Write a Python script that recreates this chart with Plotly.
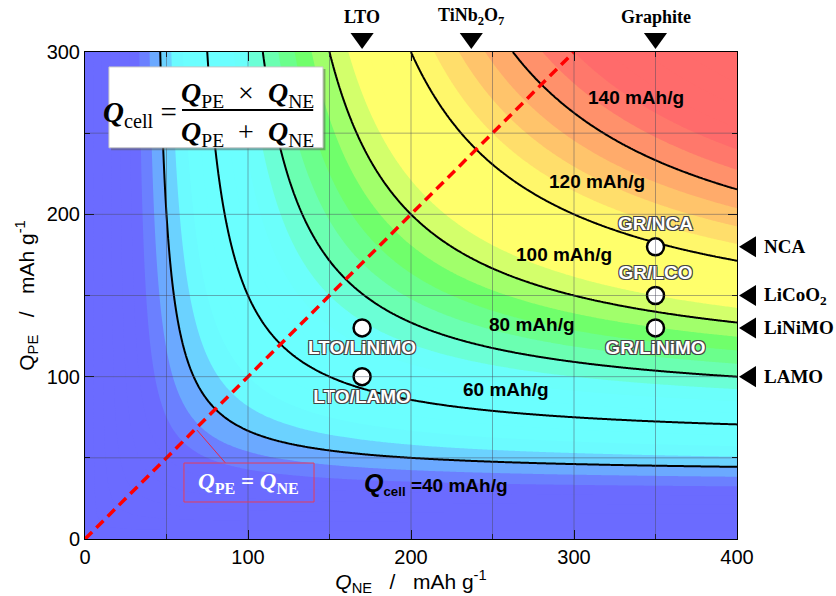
import numpy as np
import plotly.graph_objects as go

# Specific capacities (mAh/g) of the electrode materials
ne_materials = ["LTO", "TiNb<sub>2</sub>O<sub>7</sub>", "Graphite"]
ne_capacity = [170, 237, 350]
pe_materials = ["NCA", "LiCoO<sub>2</sub>", "LiNiMO", "LAMO"]
pe_capacity = [180, 150, 130, 100]

# Cell combinations (negative / positive)
cell_names = ["LTO/LiNiMO", "LTO/LAMO", "GR/NCA", "GR/LCO", "GR/LiNiMO"]
cell_ne = [170, 170, 350, 350, 350]
cell_pe = [130, 100, 180, 150, 130]
cell_text_pos = ["bottom center", "bottom center", "top center", "top center", "bottom center"]

# Iso-capacity lines and their labels
line_levels = [40, 60, 80, 100, 120, 140]
label_levels = [60, 80, 100, 120, 140]
label_x = [258, 274, 294, 314, 338]
label_y = [92, 132, 175, 220, 272]

# Cell capacity map  Q_cell = Q_PE*Q_NE/(Q_PE+Q_NE)
q_ne = np.linspace(0, 400, 401)
q_pe = np.linspace(0, 300, 301)
NE, PE = np.meshgrid(q_ne, q_pe)
with np.errstate(invalid="ignore", divide="ignore"):
    q_cell = np.where(NE + PE > 0, NE * PE / (NE + PE), 0.0)

ZMIN, ZMAX = 30, 150


def stop(q):
    return (q - ZMIN) / (ZMAX - ZMIN)


scale = [
    [0.0, "rgb(107,107,255)"],
    [stop(48), "rgb(107,255,255)"],
    [stop(72), "rgb(107,255,255)"],
    [stop(92), "rgb(107,255,107)"],
    [stop(107), "rgb(255,255,107)"],
    [stop(121), "rgb(255,255,107)"],
    [1.0, "rgb(255,107,107)"],
]

fig = go.Figure()

fig.add_trace(go.Contour(
    x=q_ne, y=q_pe, z=q_cell,
    colorscale=scale, zmin=ZMIN, zmax=ZMAX, zauto=False,
    contours=dict(coloring="fill", start=0, end=200, size=5, showlines=False),
    line=dict(width=0), showscale=False, hoverinfo="skip",
))

fig.add_trace(go.Contour(
    x=q_ne, y=q_pe, z=q_cell,
    contours=dict(coloring="lines", start=line_levels[0], end=line_levels[-1],
                  size=line_levels[1] - line_levels[0]),
    line=dict(color="black", width=2), colorscale=[[0, "black"], [1, "black"]],
    showscale=False, hoverinfo="skip",
))

# Q_PE = Q_NE diagonal
fig.add_trace(go.Scatter(
    x=[0, 300], y=[0, 300], mode="lines",
    line=dict(color="rgb(255,0,0)", width=3.5, dash="10px,6px"),
    hoverinfo="skip", showlegend=False,
))

# Cell points
fig.add_trace(go.Scatter(
    x=cell_ne, y=cell_pe, mode="markers+text",
    marker=dict(size=17, color="white", line=dict(color="black", width=2.5)),
    text=cell_names, textposition=cell_text_pos,
    textfont=dict(family="Liberation Sans", size=19, color="white",
                  weight="bold",
                  shadow="1px 1px 0 #444, -1px -1px 0 #444, 1px -1px 0 #444, -1px 1px 0 #444"),
    hoverinfo="skip", showlegend=False,
))

serif = "Liberation Serif"
annotations = []
shapes = []

# Material markers along the top (negative electrodes) and right edge (positive electrodes)
for name, q in zip(ne_materials, ne_capacity):
    annotations.append(dict(x=q, y=1.0719, xref="x", yref="paper", text=f"<b>{name}</b>",
                            showarrow=False, yanchor="middle",
                            font=dict(family=serif, size=18, color="black")))
    shapes.append(dict(type="path", xref="x", yref="paper",
                       path=f"M {q - 7.1},1.039 L {q + 7.1},1.039 L {q},1.0062 Z",
                       fillcolor="black", line=dict(width=0)))
for name, q in zip(pe_materials, pe_capacity):
    annotations.append(dict(x=1.0383, y=q, xref="paper", yref="y", text=f"<b>{name}</b>",
                            showarrow=False, xanchor="left", yanchor="middle",
                            font=dict(family=serif, size=19, color="black")))
    shapes.append(dict(type="path", xref="paper", yref="y",
                       path=f"M 1.0031,{q} L 1.0291,{q + 6.5} L 1.0291,{q - 6.5} Z",
                       fillcolor="black", line=dict(width=0)))

for lv, lx, ly in zip(label_levels, label_x, label_y):
    annotations.append(dict(x=lx, y=ly, text=f"<b>{lv} mAh/g</b>", showarrow=False,
                            font=dict(family="Liberation Sans", size=19, color="black")))
annotations.append(dict(
    x=170, y=34, xanchor="left", showarrow=False,
    text='<b><i><span style="font-size:25px">Q</span></i></b><b><sub>cell</sub></b><b> =40 mAh/g</b>',
    font=dict(family="Liberation Sans", size=19, color="black"),
))

# Formula box
annotations += [
    dict(x=34, y=262, text="<b><i>Q</i></b><sub>cell</sub> =", showarrow=False,
         font=dict(family=serif, size=29, color="black")),
    dict(x=99.5, y=274, text="<b><i>Q</i></b><sub>PE</sub>  ×  <b><i>Q</i></b><sub>NE</sub>",
         showarrow=False, font=dict(family=serif, size=28, color="black")),
    dict(x=99.5, y=250, text="<b><i>Q</i></b><sub>PE</sub>  +  <b><i>Q</i></b><sub>NE</sub>",
         showarrow=False, font=dict(family=serif, size=28, color="black")),
    dict(x=100.5, y=34.5, text="<b><i>Q</i><sub>PE</sub> = <i>Q</i><sub>NE</sub></b>",
         showarrow=False, font=dict(family=serif, size=23, color="white")),
]

# grid lines drawn above the colour map
for gx in [50, 100, 150, 200, 250, 300, 350]:
    shapes.append(dict(type="line", x0=gx, x1=gx, y0=0, y1=300, xref="x", yref="y",
                       line=dict(color="rgba(70,70,90,0.45)", width=1), layer="above"))
for gy in [50, 100, 150, 200, 250]:
    shapes.append(dict(type="line", x0=0, x1=400, y0=gy, y1=gy, xref="x", yref="y",
                       line=dict(color="rgba(70,70,90,0.45)", width=1), layer="above"))
shapes += [
    dict(type="rect", x0=16, x1=147.5, y0=239.5, y1=289.5, xref="x", yref="y",
         fillcolor="rgba(90,90,90,0.5)", line=dict(width=0), layer="above"),
    dict(type="rect", x0=14.7, x1=146, y0=241, y1=290.8, xref="x", yref="y",
         fillcolor="white", line=dict(color="rgb(200,200,200)", width=1), layer="above"),
    dict(type="line", x0=59.5, x1=140, y0=264.3, y1=264.3, xref="x", yref="y",
         line=dict(color="black", width=2), layer="above"),
    dict(type="rect", x0=60.7, x1=140.5, y0=22.8, y1=46.8, xref="x", yref="y",
         line=dict(color="rgb(230,60,90)", width=1), layer="above"),
    dict(type="line", x0=68.7, x1=86, y0=67.1, y1=47, xref="x", yref="y",
         line=dict(color="rgb(230,40,70)", width=1), layer="above"),
]

axis_common = dict(
    showgrid=False, zeroline=False, showline=True, linecolor="black", linewidth=1,
    mirror="ticks", ticks="inside", ticklen=9, tickcolor="black", tickwidth=1,
    dtick=100, tick0=0,
    minor=dict(ticks="inside", ticklen=5, tickcolor="black", dtick=50, showgrid=False),
    tickfont=dict(family="Liberation Sans", size=20, color="black"),
    layer="above traces",
)

fig.update_layout(
    width=836, height=596,
    margin=dict(l=85, r=99, t=52, b=57),
    paper_bgcolor="white", plot_bgcolor="white",
    showlegend=False,
    xaxis=dict(range=[0, 400], title=dict(
        text="<i>Q</i><sub>NE</sub>   /   mAh g<sup>-1</sup>", standoff=2,
        font=dict(family="Liberation Sans", size=21, color="black")), **axis_common),
    yaxis=dict(range=[0, 300], title=dict(
        text="Q<sub>PE</sub>   /   mAh g<sup>-1</sup>", standoff=6,
        font=dict(family="Liberation Sans", size=21, color="black")), **axis_common),
    annotations=annotations,
    shapes=shapes,
)

fig.write_html("out.html")
